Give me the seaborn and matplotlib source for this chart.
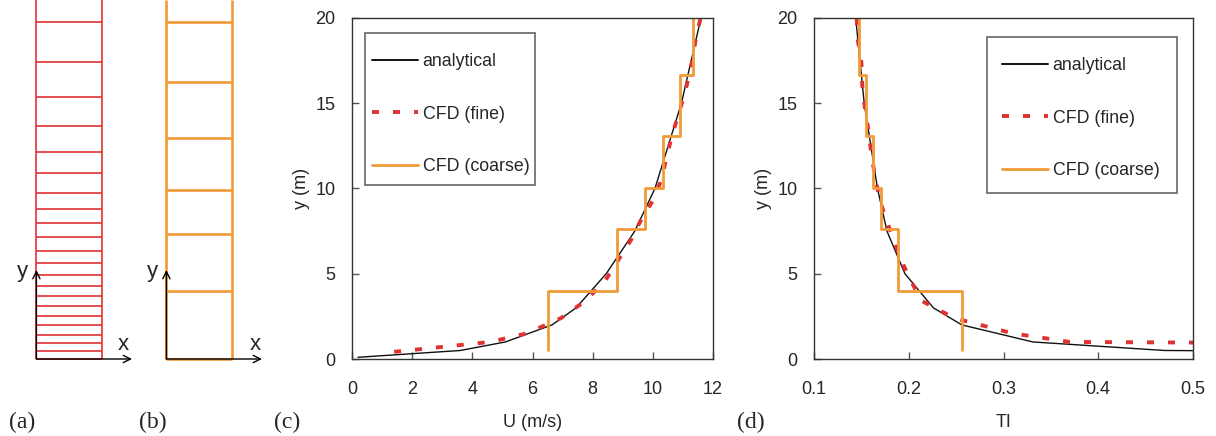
import numpy as np
import pandas as pd
import matplotlib
matplotlib.use("Agg")
import matplotlib.pyplot as plt
import seaborn as sns
from matplotlib.patches import Rectangle
from matplotlib.lines import Line2D

# ---------------------------------------------------------------- data
# mesh node heights (m)
fine_nodes = [0, 0.47, 0.94, 1.41, 1.99, 2.52, 3.11, 3.70, 4.28, 4.93, 5.63,
              6.33, 7.16, 7.98, 8.80, 9.74, 10.91, 12.14, 13.67, 15.37, 17.42, 19.77]
coarse_nodes = [0, 3.99, 7.33, 9.91, 12.96, 16.25, 19.77]

# analytical inlet profiles
ana_y = [0.1, 0.5, 1, 2, 3, 5, 7.5, 10, 15, 20]
ana_U = [0.2, 3.6, 5.1, 6.65, 7.45, 8.45, 9.4, 10.07, 10.95, 11.6]
ana_TI = [1.6, 0.47, 0.331, 0.256, 0.226, 0.196, 0.177, 0.167, 0.153, 0.144]

# CFD, fine mesh
fine_y = [0.42, 1.0, 1.5, 2.4, 3.4, 4.6, 5.8, 7.0, 8.2, 9.4, 10.6, 11.8,
          13.2, 14.6, 16.0, 17.4, 18.8, 20.1]
fine_U = [1.4, 4.6, 5.8, 6.95, 7.75, 8.42, 8.85, 9.28, 9.62, 10.04, 10.3, 10.45,
          10.65, 10.9, 11.12, 11.3, 11.43, 11.6]
fine_TI = [2.5, 0.37, 0.31, 0.248, 0.214, 0.202, 0.192, 0.184, 0.176, 0.169, 0.165,
           0.161, 0.158, 0.154, 0.151, 0.150, 0.146, 0.145]

# CFD, coarse mesh: one value per cell between consecutive edges
coarse_edges = [0.5, 4.0, 7.6, 10.05, 13.1, 16.65, 20.1]
coarse_U = [6.5, 8.8, 9.75, 10.35, 10.9, 11.35]
coarse_TI = [0.256, 0.189, 0.171, 0.162, 0.155, 0.148]

series_labels = ["analytical", "CFD (fine)", "CFD (coarse)"]
panel_labels = ["(a)", "(b)", "(c)", "(d)"]

# ---------------------------------------------------------------- style
sns.set_theme(style="white")
plt.rcParams["font.family"] = ["Liberation Sans", "DejaVu Sans"]

BLACK = "#111111"
RED = "#e03232"
ORANGE = "#f29a38"
SPINE = "#333333"

W, H = 1216, 436
fig = plt.figure(figsize=(W / 100, H / 100), dpi=100)


def px_axes(left, top, right, bottom):
    return fig.add_axes([left / W, 1 - bottom / H, (right - left) / W, (bottom - top) / H])


def step_path(values, edges):
    xs = np.repeat(values, 2)
    ys = np.repeat(edges, 2)[1:-1]
    return xs, ys


# ---------------------------------------------------------------- mesh sketches
def mesh_panel(ax, nodes, color, lw):
    left, right, arrow_end = 0.26, 0.73, 0.943
    ax.set_xlim(0, 1)
    ax.set_ylim(-21 / 17.05, 359 / 17.05)
    ax.axis("off")
    top = ax.get_ylim()[1]
    ax.vlines([left, right], 0, top, color=color, lw=lw)
    ax.hlines(nodes, left, right, color=color, lw=lw)
    arrow = dict(arrowstyle="->", lw=1.0, color="black", mutation_scale=13,
                 shrinkA=0, shrinkB=0)
    ax.annotate("", xy=(left, 5.22), xytext=(left, 0), arrowprops=arrow)
    ax.annotate("", xy=(arrow_end, 0), xytext=(left, 0), arrowprops=arrow)


ax_a = px_axes(0, 0, 140, 380)
mesh_panel(ax_a, fine_nodes, RED, 1.2)
ax_b = px_axes(130, 0, 270, 380)
mesh_panel(ax_b, coarse_nodes, ORANGE, 1.9)

for cx in (22, 152):
    fig.text(cx / W, 1 - 271 / H, "y", fontsize=16, ha="center", va="center")
for cx in (123, 255):
    fig.text(cx / W, 1 - 344 / H, "x", fontsize=16, ha="center", va="center")

# ---------------------------------------------------------------- profiles
ax_c = px_axes(352, 18, 713, 359)
ax_d = px_axes(814, 18, 1193, 359)

fine_dash = (0, (1.8, 3.6))

for ax, ana_x, fine_x, coarse_x in ((ax_c, ana_U, fine_U, coarse_U),
                                    (ax_d, ana_TI, fine_TI, coarse_TI)):
    sns.lineplot(x=ana_x, y=ana_y, sort=False, estimator=None, ax=ax,
                 color=BLACK, lw=1.0)
    sns.lineplot(x=fine_x, y=fine_y, sort=False, estimator=None, ax=ax,
                 color=RED, lw=2.8, linestyle=fine_dash)
    cx_, cy_ = step_path(coarse_x, coarse_edges)
    sns.lineplot(x=cx_, y=cy_, sort=False, estimator=None, ax=ax,
                 color=ORANGE, lw=2.0)

    ax.set_ylim(0, 20)
    ax.set_yticks([0, 5, 10, 15, 20])
    ax.set_ylabel("y (m)", fontsize=13, labelpad=4)
    for s in ax.spines.values():
        s.set_visible(True)
        s.set_color(SPINE)
        s.set_linewidth(1.0)
    ax.tick_params(direction="in", length=5, width=1, color="#555555",
                   labelsize=13, left=True, bottom=True)
    ax.tick_params(axis="x", pad=16)
    ax.tick_params(axis="y", pad=12)

ax_c.set_xlim(0, 12)
ax_c.set_xticks(range(0, 13, 2))
ax_c.set_xlabel("U (m/s)", fontsize=13, labelpad=11)

ax_d.set_xlim(0.1, 0.5)
ax_d.set_xticks([0.1, 0.2, 0.3, 0.4, 0.5])
ax_d.set_xticklabels(["0.1", "0.2", "0.3", "0.4", "0.5"])
ax_d.set_xlabel("TI", fontsize=13, labelpad=11)


def legend_box(ax, ax_px, box_px, anchor_px):
    l, t, r, b = ax_px
    bl, bt, br, bb = box_px
    fx = lambda x: (x - l) / (r - l)
    fy = lambda y: (b - y) / (b - t)
    ax.add_patch(Rectangle((fx(bl), fy(bb)), fx(br) - fx(bl), fy(bt) - fy(bb),
                           transform=ax.transAxes, facecolor="white",
                           edgecolor="#666666", lw=1.2, zorder=4))
    handles = [Line2D([], [], color=BLACK, lw=1.4),
               Line2D([], [], color=RED, lw=2.8, linestyle=fine_dash),
               Line2D([], [], color=ORANGE, lw=2.0)]
    leg = ax.legend(handles, series_labels, loc="upper left",
                    bbox_to_anchor=(fx(anchor_px[0]), fy(anchor_px[1])),
                    frameon=False, fontsize=12.8, borderpad=0, borderaxespad=0,
                    handlelength=2.6, handletextpad=0.25, labelspacing=2.0)
    leg.set_zorder(5)


legend_box(ax_c, (352, 18, 713, 359), (365, 33, 535, 185), (372, 53))
legend_box(ax_d, (814, 18, 1193, 359), (987, 37, 1177, 193), (1002, 57))

# ---------------------------------------------------------------- panel tags
for lab, cx in zip(panel_labels, (22, 153, 287, 751)):
    fig.text(cx / W, 1 - 422 / H, lab, fontsize=17, ha="center", va="center",
             family=["Liberation Serif", "DejaVu Serif"])

fig.savefig("out.png", dpi=100)
